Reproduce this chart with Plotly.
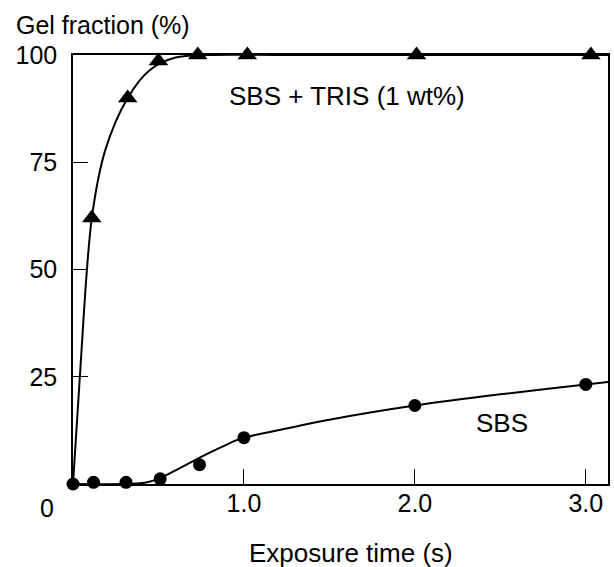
import plotly.graph_objects as go

# Measured data points
sbs_t = [0.0, 0.12, 0.31, 0.51, 0.74, 1.0, 2.0, 3.0]
sbs_gel = [0.0, 0.4, 0.4, 1.2, 4.5, 10.8, 18.3, 23.2]

tris_t = [0.11, 0.32, 0.5, 0.73, 1.02, 2.01, 3.03]
tris_gel = [62.0, 90.0, 98.6, 100.0, 100.0, 100.0, 100.0]

# Fitted curves
sbs_fit_t = [0.0, 0.3, 0.42, 0.5, 0.6, 0.7, 0.8, 0.9, 0.95, 1.0, 1.1, 1.5, 2.0, 2.5, 3.0, 3.13]
sbs_fit_gel = [0.0, 0.0, 0.3, 1.2, 3.2, 5.3, 7.3, 9.2, 10.1, 10.8, 11.7, 15.0, 18.3, 20.9, 23.2, 23.8]

tris_fit_t = [0.0, 0.04, 0.11, 0.19, 0.32, 0.45, 0.6, 0.8, 1.2, 2.0, 3.13]
tris_fit_gel = [0.0, 25.0, 62.0, 78.0, 90.0, 96.5, 99.4, 100.0, 100.0, 100.0, 100.0]

x_ticks = [1.0, 2.0, 3.0]
x_tick_text = ["1.0", "2.0", "3.0"]
y_ticks = [25, 50, 75, 100]
y_tick_text = ["25", "50", "75", "100"]

FONT = "Liberation Sans, Arial, sans-serif"

fig = go.Figure()
fig.add_trace(go.Scatter(x=tris_fit_t, y=tris_fit_gel, mode="lines",
                         line=dict(color="black", width=2, shape="spline", smoothing=0.9),
                         showlegend=False, hoverinfo="skip"))
fig.add_trace(go.Scatter(x=sbs_fit_t, y=sbs_fit_gel, mode="lines",
                         line=dict(color="black", width=2, shape="spline", smoothing=0.6),
                         showlegend=False, hoverinfo="skip"))
fig.add_trace(go.Scatter(x=tris_t, y=tris_gel, mode="markers", name="SBS + TRIS (1 wt%)",
                         marker=dict(symbol="triangle-up", size=17, color="black"),
                         cliponaxis=False, showlegend=False))
fig.add_trace(go.Scatter(x=sbs_t, y=sbs_gel, mode="markers", name="SBS",
                         marker=dict(symbol="circle", size=13, color="black"),
                         cliponaxis=False, showlegend=False))

fig.update_xaxes(range=[0, 3.13], tickvals=x_ticks, ticktext=x_tick_text,
                 ticks="inside", ticklen=15, tickwidth=1, tickcolor="black",
                 showline=True, linecolor="black", linewidth=1.5, mirror=True,
                 showgrid=False, zeroline=False, ticklabelstandoff=-4,
                 tickfont=dict(family=FONT, size=25, color="black"))
fig.update_yaxes(range=[0, 100], tickvals=y_ticks, ticktext=y_tick_text,
                 ticks="inside", ticklen=15, tickwidth=1, tickcolor="black",
                 showline=True, linecolor="black", linewidth=1.5, mirror=True,
                 showgrid=False, zeroline=False, ticklabelstandoff=9,
                 tickfont=dict(family=FONT, size=25, color="black"))

annots = [
    dict(text="Gel fraction (%)", xref="paper", yref="paper", x=-0.11, y=1.071,
         xanchor="left", yanchor="middle", font_size=25),
    dict(text="Exposure time (s)", xref="paper", yref="paper", x=(352 - 72.5) / 537.5,
         y=-(553 - 484) / 429.5, xanchor="center", yanchor="middle", font_size=26),
    dict(text="0", xref="x", yref="paper", x=0, xshift=-26, y=-(508 - 484) / 429.5,
         xanchor="center", yanchor="middle", font_size=25),
    dict(text="SBS + TRIS (1 wt%)", xref="paper", yref="paper", x=(348 - 72.5) / 537.5,
         y=(484 - 96) / 429.5, xanchor="center", yanchor="middle", font_size=26),
    dict(text="SBS", xref="paper", yref="paper", x=(504 - 72.5) / 537.5,
         y=(484 - 423) / 429.5, xanchor="center", yanchor="middle", font_size=26),
]
for a in annots:
    fs = a.pop("font_size")
    fig.add_annotation(**a, showarrow=False, font=dict(family=FONT, size=fs, color="black"))

fig.update_layout(width=614, height=567, paper_bgcolor="white", plot_bgcolor="white",
                  margin=dict(l=72.5, r=4, t=54.5, b=83), showlegend=False)

fig.write_html("out.html")
